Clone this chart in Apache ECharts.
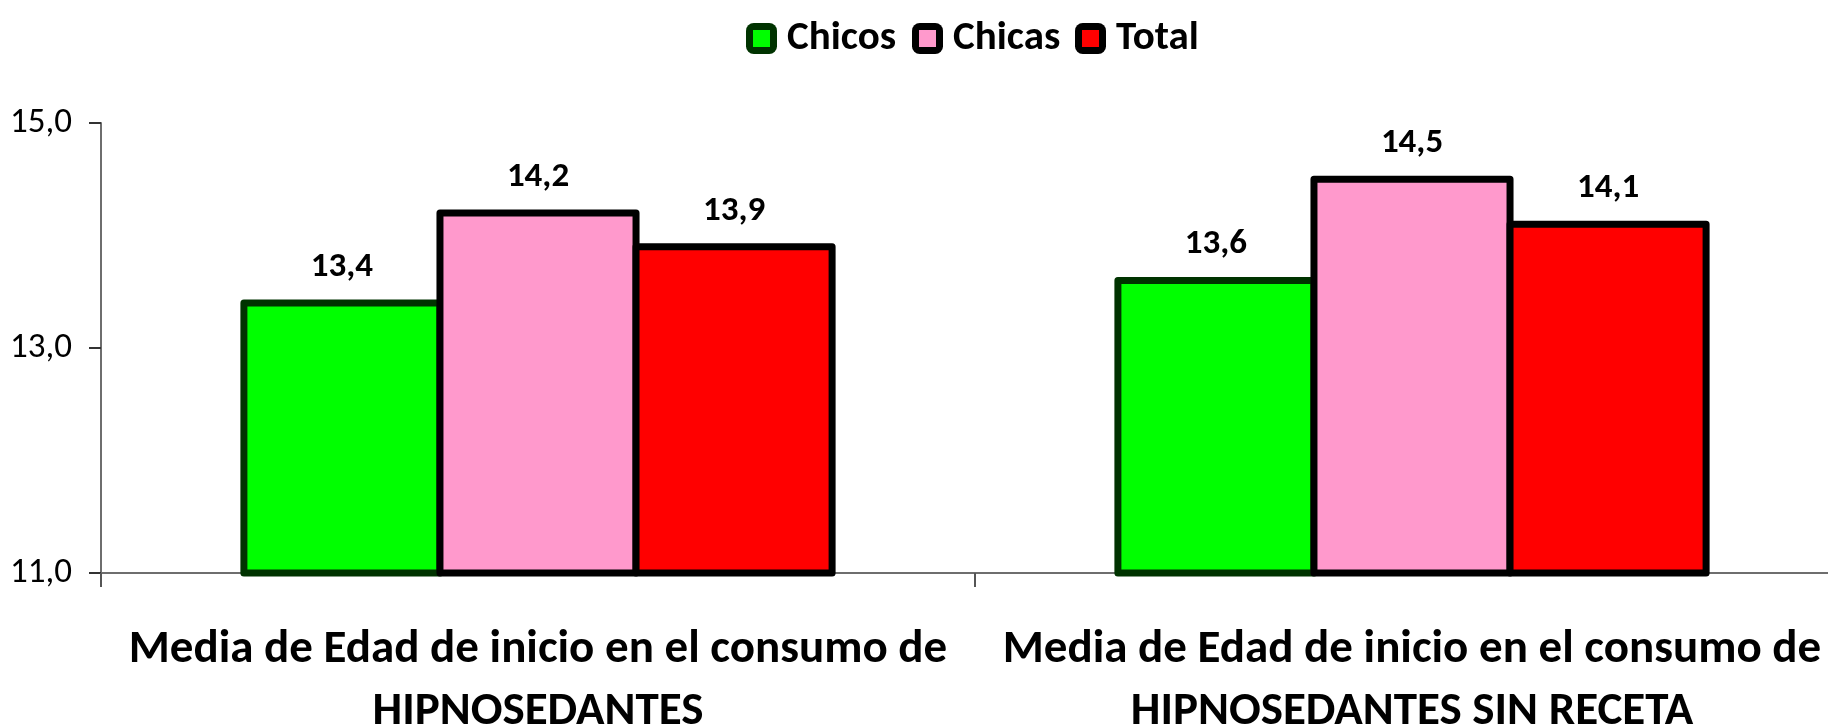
<!DOCTYPE html>
<html>
<head>
<meta charset="utf-8">
<script src="https://cdn.jsdelivr.net/npm/echarts@6/dist/echarts.min.js"></script>
<style>
  html, body { margin: 0; padding: 0; background: #ffffff; }
  #chart { width: 1828px; height: 728px; }
</style>
</head>
<body>
<div id="chart"></div>
<script>
// Mean age of first use, by sex
const categories = [
  'Media de Edad de inicio en el consumo de\nHIPNOSEDANTES',
  'Media de Edad de inicio en el consumo de\nHIPNOSEDANTES SIN RECETA'
];
const seriesNames = ['Chicos', 'Chicas', 'Total'];
const chicos = [13.4, 13.6];
const chicas = [14.2, 14.5];
const total = [13.9, 14.1];
const yTicks = { min: 11, max: 15, step: 2 };

const FONT = "Carlito, 'Liberation Sans Narrow', 'Open Sans', sans-serif";
const comma = v => v.toFixed(1).replace('.', ',');

const fills = ['#00ff00', '#ff99cc', '#ff0000'];
const borders = ['#003300', '#000000', '#000000'];
const values = [chicos, chicas, total];

const GROUP_FRACTION = 0.673;   // share of each category band covered by its bars
const BORDER = 7;

// Bars with the outline centred on the bar edge, plus the value above each bar
function renderBar(params, api) {
  const s = params.seriesIndex;
  const cat = api.value(0);
  const v = api.value(1);
  const base = api.coord([cat, yTicks.min]);
  const top = api.coord([cat, v]);
  const band = api.size([1, 0])[0];
  const barW = band * GROUP_FRACTION / seriesNames.length;
  const x0 = base[0] - barW * seriesNames.length / 2 + s * barW;
  return {
    type: 'group',
    children: [
      {
        type: 'rect',
        shape: { x: x0, y: top[1], width: barW, height: base[1] - top[1] },
        style: { fill: fills[s], stroke: borders[s], lineWidth: BORDER, lineJoin: 'round' }
      },
      {
        type: 'text',
        z2: 10,
        style: {
          text: comma(v),
          x: x0 + barW / 2,
          y: top[1] - 36,
          align: 'center',
          verticalAlign: 'middle',
          fontFamily: FONT,
          fontWeight: 'bold',
          fontSize: 35,
          fill: '#000'
        }
      }
    ]
  };
}

// Legend keys: a dark outer square carrying the name, with the fill-coloured
// inner square laid over it so each key has a thick frame
const legendLefts = [741, 907, 1070];
const KEY = 31;
const KEY_INNER = 17;
const KEY_FRAME = (KEY - KEY_INNER) / 2;
const legendText = { fontFamily: FONT, fontWeight: 'bold', fontSize: 41, color: '#000' };

const legends = [];
seriesNames.forEach((n, i) => {
  legends.push({
    top: 13,
    left: legendLefts[i],
    selectedMode: false,
    itemWidth: KEY,
    itemHeight: KEY,
    icon: 'roundRect',
    textStyle: Object.assign({}, legendText, { padding: [0, 0, 0, 5] }),
    data: [{ name: n, itemStyle: { color: borders[i], borderWidth: 0 } }]
  });
  legends.push({
    z: 5,
    top: 13,
    left: legendLefts[i] + KEY_FRAME,
    selectedMode: false,
    itemWidth: KEY_INNER,
    itemHeight: KEY_INNER,
    icon: 'rect',
    textStyle: Object.assign({}, legendText, { color: 'rgba(0,0,0,0)' }),
    data: [{ name: n, itemStyle: { color: fills[i], borderWidth: 0 } }]
  });
});

const chart = echarts.init(document.getElementById('chart'), null, { renderer: 'canvas' });

chart.setOption({
  animation: false,
  backgroundColor: '#ffffff',
  legend: legends,
  // plot area runs past the right edge, so the last category boundary is off-canvas
  grid: {
    left: 101, top: 123, bottom: 155, width: 1748,
    containLabel: false,
    outerBoundsMode: 'none'
  },
  xAxis: {
    type: 'category',
    data: categories,
    axisLine: { lineStyle: { color: '#6e6e6e', width: 2 } },
    axisTick: { show: true, length: 14, lineStyle: { color: '#555', width: 2 } },
    axisLabel: {
      interval: 0,
      margin: 46,
      fontFamily: FONT,
      fontWeight: 'bold',
      fontSize: 47,
      lineHeight: 62,
      color: '#000'
    }
  },
  yAxis: {
    type: 'value',
    min: yTicks.min,
    max: yTicks.max,
    interval: yTicks.step,
    axisLine: { show: true, lineStyle: { color: '#6e6e6e', width: 2 } },
    axisTick: { show: true, length: 12, lineStyle: { color: '#333', width: 2 } },
    axisLabel: {
      margin: 29,
      fontFamily: FONT,
      fontSize: 35,
      color: '#000',
      formatter: v => comma(v)
    },
    splitLine: { show: true, lineStyle: { color: ['#777', '#777', '#c4c4c4'], width: [1, 1, 3] } }
  },
  series: seriesNames.map((n, i) => ({
    name: n,
    type: 'custom',
    clip: false,
    itemStyle: { color: fills[i], borderColor: borders[i], borderWidth: BORDER },
    encode: { x: 0, y: 1 },
    data: values[i].map((v, j) => [j, v]),
    renderItem: renderBar
  }))
});
</script>
</body>
</html>
